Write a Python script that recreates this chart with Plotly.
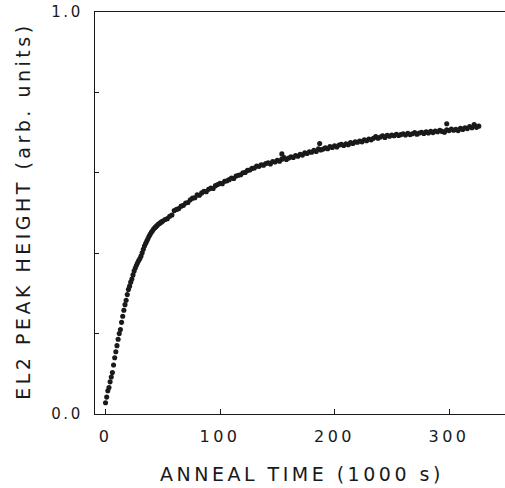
import plotly.graph_objects as go

# Anneal time (1000 s)
time_early = [0, 1, 2, 3, 4, 5, 6, 7, 8, 9, 10, 11, 12, 13, 14, 15, 16, 17, 18, 19,
              20, 21, 22, 23, 24, 25, 26, 27, 28, 29, 30, 31, 32, 33, 34, 35, 36, 37,
              38, 39, 40, 41, 42, 43, 44, 45, 46, 47, 48, 49, 50]
peak_early = [0.028, 0.042, 0.058, 0.066, 0.080, 0.092, 0.103, 0.122, 0.140, 0.155,
              0.170, 0.186, 0.200, 0.210, 0.228, 0.243, 0.258, 0.272, 0.283, 0.297,
              0.310, 0.318, 0.328, 0.336, 0.346, 0.356, 0.363, 0.370, 0.376, 0.382,
              0.387, 0.393, 0.401, 0.410, 0.418, 0.424, 0.430, 0.436, 0.442, 0.447,
              0.452, 0.456, 0.460, 0.463, 0.466, 0.469, 0.472, 0.474, 0.476, 0.478, 0.480]

time_late = [52, 54, 56, 58, 60, 62, 64, 66, 68, 70, 72, 74, 76, 78, 80, 82, 84, 86, 88, 90,
             92, 94, 96, 98, 100, 102, 104, 106, 108, 110, 112, 114, 116, 118, 120, 122, 124,
             126, 128, 130, 132, 134, 136, 138, 140, 142, 144, 146, 148, 150, 152, 154, 156,
             158, 160, 162, 164, 166, 168, 170, 172, 174, 176, 178, 180, 182, 184, 186, 188,
             190, 192, 194, 196, 198, 200, 202, 204, 206, 208, 210, 212, 214, 216, 218, 220,
             222, 224, 226, 228, 230, 232, 234, 236, 238, 240, 242, 244, 246, 248, 250, 252,
             254, 256, 258, 260, 262, 264, 266, 268, 270, 272, 274, 276, 278, 280, 282, 284,
             286, 288, 290, 292, 294, 296, 298, 300, 302, 304, 306, 308, 310, 312, 314, 316,
             318, 320, 322, 324, 326, 154, 187, 298, 322]
peak_late = [0.484, 0.486, 0.492, 0.495, 0.506, 0.509, 0.511, 0.517, 0.519, 0.525, 0.526,
             0.533, 0.537, 0.538, 0.545, 0.544, 0.550, 0.554, 0.553, 0.559, 0.562, 0.561,
             0.568, 0.571, 0.574, 0.573, 0.579, 0.580, 0.583, 0.587, 0.586, 0.592, 0.594,
             0.595, 0.600, 0.601, 0.606, 0.607, 0.611, 0.612, 0.617, 0.616, 0.620, 0.619,
             0.623, 0.625, 0.622, 0.628, 0.627, 0.631, 0.629, 0.634, 0.638, 0.633, 0.637,
             0.640, 0.638, 0.643, 0.641, 0.646, 0.644, 0.650, 0.648, 0.652, 0.651, 0.656,
             0.653, 0.660, 0.657, 0.659, 0.662, 0.660, 0.665, 0.663, 0.667, 0.664, 0.669,
             0.671, 0.668, 0.672, 0.670, 0.675, 0.673, 0.677, 0.676, 0.679, 0.677, 0.682,
             0.680, 0.684, 0.682, 0.686, 0.690, 0.686, 0.689, 0.692, 0.688, 0.693, 0.691,
             0.694, 0.692, 0.696, 0.693, 0.695, 0.697, 0.694, 0.698, 0.695, 0.697, 0.700,
             0.696, 0.699, 0.701, 0.698, 0.702, 0.699, 0.703, 0.700, 0.704, 0.702, 0.706,
             0.703, 0.701, 0.707, 0.705, 0.709, 0.706, 0.708, 0.705, 0.711, 0.708, 0.712,
             0.710, 0.715, 0.712, 0.718, 0.713, 0.716, 0.647, 0.673, 0.722, 0.720]

x_tick_vals = [0, 100, 200, 300]
x_tick_text = ["0", "100", "200", "300"]
y_tick_vals = [0.0, 0.2, 0.4, 0.6, 0.8, 1.0]
y_tick_text = ["0.0", "", "", "", "", "1.0"]

x_title = "ANNEAL TIME (1000 s)"
y_title = "EL2 PEAK HEIGHT (arb. units)"

times = time_early + time_late
peaks = peak_early + peak_late

FONT = "DejaVu Sans"
INK = "#1a1a1a"

fig = go.Figure()
fig.add_trace(go.Scatter(
    x=times, y=peaks, mode="markers",
    marker=dict(size=5.1, color=INK, line=dict(width=0)),
    showlegend=False, hoverinfo="skip",
))

fig.update_layout(
    width=505, height=488,
    margin=dict(l=95, r=0, t=12, b=74, autoexpand=False),
    paper_bgcolor="white", plot_bgcolor="white",
    font=dict(family=FONT, color=INK),
    xaxis=dict(
        range=[-9.2, 348.9], showgrid=False, zeroline=False,
        showline=True, linecolor=INK, linewidth=1.3, mirror=True,
        ticks="inside", ticklen=5, tickwidth=1, tickcolor=INK,
        tickvals=x_tick_vals, ticktext=x_tick_text,
        tickfont=dict(family=FONT, size=16, color=INK),
        ticklabelstandoff=7, automargin=False,
    ),
    yaxis=dict(
        range=[0, 1], showgrid=False, zeroline=False,
        showline=True, linecolor=INK, linewidth=1.3, mirror=False,
        ticks="inside", ticklen=4, tickwidth=1, tickcolor=INK,
        tickvals=y_tick_vals, ticktext=y_tick_text,
        tickfont=dict(family=FONT, size=15, color=INK),
        ticklabelstandoff=8, automargin=False,
    ),
    annotations=[
        dict(text=x_title, xref="x", yref="paper", x=171.6, y=-0.149,
             xanchor="center", yanchor="middle", showarrow=False,
             font=dict(family=FONT, size=19, color=INK)),
        dict(text=y_title, xref="paper", yref="paper", x=-0.1756, y=0.503,
             xanchor="center", yanchor="middle", showarrow=False, textangle=-90,
             font=dict(family=FONT, size=19, color=INK)),
    ],
)

post = """
document.body.style.margin = '0';
document.body.style.padding = '0';
var s = document.createElement('style');
s.textContent = 'html,body{margin:0;padding:0;} .annotation-text{letter-spacing:3.5px;} .xtick text{letter-spacing:3.5px;} .ytick text{letter-spacing:2.5px;}';
document.head.appendChild(s);
"""

fig.write_html("out.html", post_script=post, config={"displayModeBar": False, "staticPlot": True})
